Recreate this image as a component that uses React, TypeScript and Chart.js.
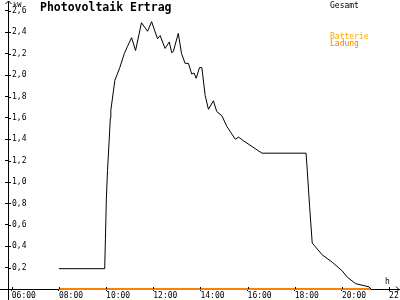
import React, { useEffect, useRef } from "react";
import { Chart, registerables } from "chart.js";

Chart.register(...registerables);

// Gesamt (total PV output, kW) by hour of day
const hours = [
  8.0, 9.94, 9.97, 10.01, 10.06, 10.13, 10.18, 10.2, 10.37, 10.58, 10.77, 10.91,
  11.08, 11.25, 11.5, 11.76, 11.93, 12.18, 12.29, 12.5, 12.68, 12.78, 12.85,
  13.06, 13.2, 13.35, 13.49, 13.63, 13.73, 13.82, 13.96, 14.06, 14.2, 14.34,
  14.55, 14.69, 14.91, 15.12, 15.33, 15.48, 15.62, 15.8, 16.61, 18.48, 18.53,
  18.63, 18.74, 19.16, 19.59, 20.01, 20.23, 20.58, 21.15, 21.23,
];
const gesamt = [
  0.19, 0.19, 0.46, 0.84, 1.11, 1.39, 1.6, 1.67, 1.95, 2.07, 2.2, 2.27, 2.35,
  2.23, 2.49, 2.41, 2.5, 2.34, 2.37, 2.25, 2.31, 2.21, 2.22, 2.39, 2.2, 2.11,
  2.11, 2.01, 2.02, 1.97, 2.07, 2.07, 1.81, 1.68, 1.76, 1.66, 1.62, 1.52, 1.45,
  1.4, 1.42, 1.39, 1.27, 1.27, 1.11, 0.77, 0.43, 0.32, 0.25, 0.17, 0.11, 0.05,
  0.02, 0.0,
];

// Batterie Ladung (battery charging, kW)
const batteryHours = [8.0, 21.23];
const batteryValues = [0, 0];

const xTicks = [6, 8, 10, 12, 14, 16, 18, 20, 22];
const yTicks = [0.2, 0.4, 0.6, 0.8, 1.0, 1.2, 1.4, 1.6, 1.8, 2.0, 2.2, 2.4, 2.6];

const X_MIN = 5.84;
const X_MAX = 22.42;
const Y_MIN = 0;
const Y_MAX = 2.693;

const MONO = "'DejaVu Sans Mono', monospace";

const decor = {
  id: "decor",
  afterDraw(chart: any) {
    const ctx = chart.ctx as CanvasRenderingContext2D;
    const a = chart.chartArea;
    const xs = chart.scales.x;
    const ys = chart.scales.y;
    ctx.save();
    ctx.strokeStyle = "#000";
    ctx.lineWidth = 1;
    ctx.beginPath();
    // inner halves of tick marks
    for (const t of yTicks) {
      const py = Math.round(ys.getPixelForValue(t)) + 0.5;
      ctx.moveTo(a.left, py);
      ctx.lineTo(a.left + 3, py);
    }
    for (const t of xTicks) {
      const px = Math.round(xs.getPixelForValue(t)) + 0.5;
      ctx.moveTo(px, a.bottom);
      ctx.lineTo(px, a.bottom - 2);
    }
    // axis extensions
    const ax = Math.round(a.left) + 0.5;
    const ay = Math.round(a.bottom) + 0.5;
    ctx.moveTo(0, ay);
    ctx.lineTo(a.left, ay);
    ctx.moveTo(ax, a.bottom);
    ctx.lineTo(ax, chart.height);
    // arrows
    ctx.moveTo(ax - 3, a.top + 3);
    ctx.lineTo(ax, a.top);
    ctx.lineTo(ax + 3, a.top + 3);
    ctx.moveTo(a.right - 3, ay - 3);
    ctx.lineTo(a.right, ay);
    ctx.lineTo(a.right - 3, ay + 3);
    ctx.stroke();

    ctx.textBaseline = "alphabetic";
    ctx.textAlign = "left";
    ctx.fillStyle = "#000";
    ctx.font = `bold 11.5px ${MONO}`;
    ctx.fillText("Photovoltaik Ertrag", 40, 11);
    ctx.font = `7px ${MONO}`;
    ctx.fillText("kW", 13, 7);
    ctx.font = `8px ${MONO}`;
    ctx.fillText("h", 385, 284);
    ctx.fillText("Gesamt", 330, 8);
    ctx.fillStyle = "#ffa500";
    ctx.fillText("Batterie", 330, 39);
    ctx.fillStyle = "#ff8000";
    ctx.fillText("Ladung", 330, 46);
    ctx.restore();
  },
};

export default function App() {
  const ref = useRef<HTMLCanvasElement | null>(null);

  useEffect(() => {
    const canvas = ref.current;
    if (!canvas) return;
    const chart = new Chart(canvas, {
      type: "line",
      data: {
        datasets: [
          {
            label: "Gesamt",
            data: hours.map((h, i) => ({ x: h, y: gesamt[i] })),
            borderColor: "#000",
            borderWidth: 1,
            pointRadius: 0,
            tension: 0,
            fill: false,
            clip: false,
          },
          {
            label: "Batterie Ladung",
            data: batteryHours.map((h, i) => ({ x: h, y: batteryValues[i] })),
            borderColor: "#ff8000",
            borderWidth: 2,
            pointRadius: 0,
            tension: 0,
            fill: false,
            clip: false,
          },
        ],
      },
      options: {
        animation: false,
        responsive: false,
        maintainAspectRatio: false,
        layout: { padding: { left: -3, right: 1, top: 1, bottom: -1 } },
        plugins: { legend: { display: false }, tooltip: { enabled: false } },
        scales: {
          x: {
            type: "linear",
            min: X_MIN,
            max: X_MAX,
            afterBuildTicks: (s: any) => {
              s.ticks = xTicks.map((v) => ({ value: v }));
            },
            afterFit: (s: any) => {
              s.paddingLeft = 0;
              s.paddingRight = 0;
            },
            border: { display: true, color: "#000", width: 1 },
            grid: { drawOnChartArea: false, drawTicks: true, tickLength: 2, color: "#000" },
            ticks: {
              align: "start",
              padding: 1,
              maxRotation: 0,
              autoSkip: false,
              color: "#000",
              font: { family: MONO, size: 8, lineHeight: 1 },
              callback: (v: any) => `${String(v).padStart(2, "0")}:00`,
            },
          },
          y: {
            type: "linear",
            min: Y_MIN,
            max: Y_MAX,
            afterBuildTicks: (s: any) => {
              s.ticks = yTicks.map((v) => ({ value: v }));
            },
            afterFit: (s: any) => {
              s.paddingTop = 0;
              s.paddingBottom = 0;
            },
            border: { display: true, color: "#000", width: 1 },
            grid: { drawOnChartArea: false, drawTicks: true, tickLength: 3, color: "#000" },
            ticks: {
              mirror: true,
              padding: 4,
              autoSkip: false,
              color: "#000",
              font: { family: MONO, size: 8, lineHeight: 1 },
              callback: (v: any) => Number(v).toFixed(1).replace(".", ","),
            },
          },
        },
      } as any,
      plugins: [decor],
    });
    return () => chart.destroy();
  }, []);

  return (
    <div style={{ position: "absolute", left: 0, top: 0, width: 400, height: 300, background: "#fff" }}>
      <canvas ref={ref} width={400} height={300} style={{ display: "block" }} />
    </div>
  );
}
